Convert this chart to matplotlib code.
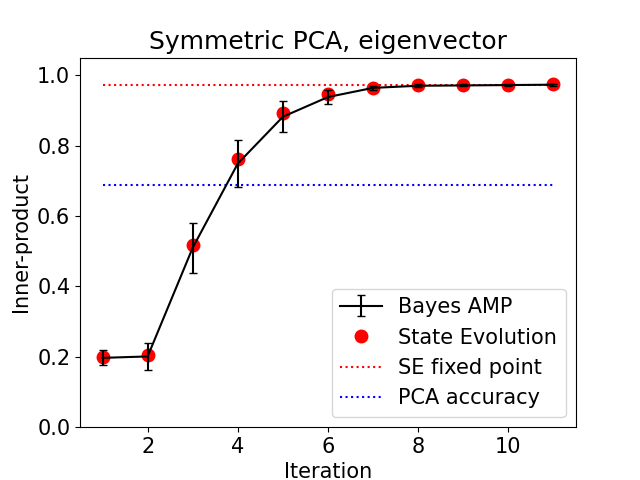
import numpy as np
import matplotlib.pyplot as plt

# Итерации
iters = np.arange(1, 12)

# Bayes AMP: среднее и полуширина ошибки
amp_mean = [0.197, 0.201, 0.510, 0.749, 0.882, 0.938, 0.964, 0.970, 0.971, 0.972, 0.973]
amp_err = [0.021, 0.039, 0.071, 0.066, 0.044, 0.021, 0.005, 0.004, 0.003, 0.003, 0.003]

# State evolution
se_vals = [0.200, 0.204, 0.519, 0.761, 0.893, 0.946, 0.965, 0.971, 0.972, 0.973, 0.974]

se_fixed = 0.972
pca_acc = 0.688

plt.rcParams['font.size'] = 15

plt.figure(figsize=(6.4, 4.8))
plt.plot(iters, se_vals, 'ro', markersize=9, label='State Evolution', zorder=2)
plt.errorbar(iters, amp_mean, yerr=amp_err, color='k', capsize=3,
             label='Bayes AMP', zorder=3)
plt.hlines(se_fixed, iters[0], iters[-1], colors='r', linestyles=':',
           label='SE fixed point')
plt.hlines(pca_acc, iters[0], iters[-1], colors='b', linestyles=':',
           label='PCA accuracy')

handles, labels = plt.gca().get_legend_handles_labels()
order = [labels.index(l) for l in ['Bayes AMP', 'State Evolution', 'SE fixed point', 'PCA accuracy']]
plt.legend([handles[i] for i in order], [labels[i] for i in order], loc='lower right')

plt.title('Symmetric PCA, eigenvector', fontsize=18)
plt.xlabel('Iteration')
plt.ylabel('Inner-product')
plt.ylim(0, 1.05)
plt.savefig('out.png', dpi=100)
